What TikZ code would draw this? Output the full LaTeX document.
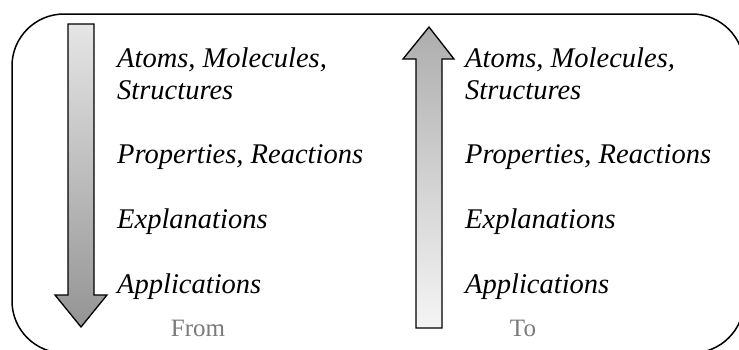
\documentclass[tikz,border=0pt]{standalone}
\usepackage{fontspec}
\setmainfont{Liberation Serif}
\begin{document}
\begin{tikzpicture}[x=1pt,y=-1pt,
  item/.style={anchor=base west,inner sep=0pt,align=left,
    font=\fontsize{28.5}{32}\selectfont\itshape},
  dirlabel/.style={anchor=base,inner sep=0pt,text=black!52,
    font=\fontsize{25}{28}\selectfont},
  arrowline/.style={draw=black,line width=1.3pt,line join=miter}]
\useasboundingbox (0,0) rectangle (739,349);
\begin{scope}
\clip (0,0) rectangle (739,349);
\draw[line width=1.5pt,rounded corners=52pt] (12,14) rectangle (744,353);
\end{scope}
% left arrow (down)
\draw[arrowline,top color=black!10,bottom color=black!42]
  (68,24) -- (94,24) -- (94,295) -- (107,295) -- (81,327) -- (55,295) -- (68,295) -- cycle;
% right arrow (up)
\draw[arrowline,top color=black!32,bottom color=black!4]
  (416,328) -- (442,328) -- (442,59) -- (454,59) -- (429,27) -- (403,59) -- (416,59) -- cycle;
% left column
\node[item] (la) at (117,99) {Atoms, Molecules,\\Structures};
\node[item] (lp) at (117,163) {Properties, Reactions};
\node[item] (le) at (117,228) {Explanations};
\node[item] (lx) at (117,293) {Applications};
\node[dirlabel] (from) at (198,336) {From};
% right column
\node[item] (ra) at (465,99) {Atoms, Molecules,\\Structures};
\node[item] (rp) at (465,163) {Properties, Reactions};
\node[item] (re) at (465,228) {Explanations};
\node[item] (rx) at (465,293) {Applications};
\node[dirlabel] (to) at (523,336) {To};
\end{tikzpicture}
\end{document}
